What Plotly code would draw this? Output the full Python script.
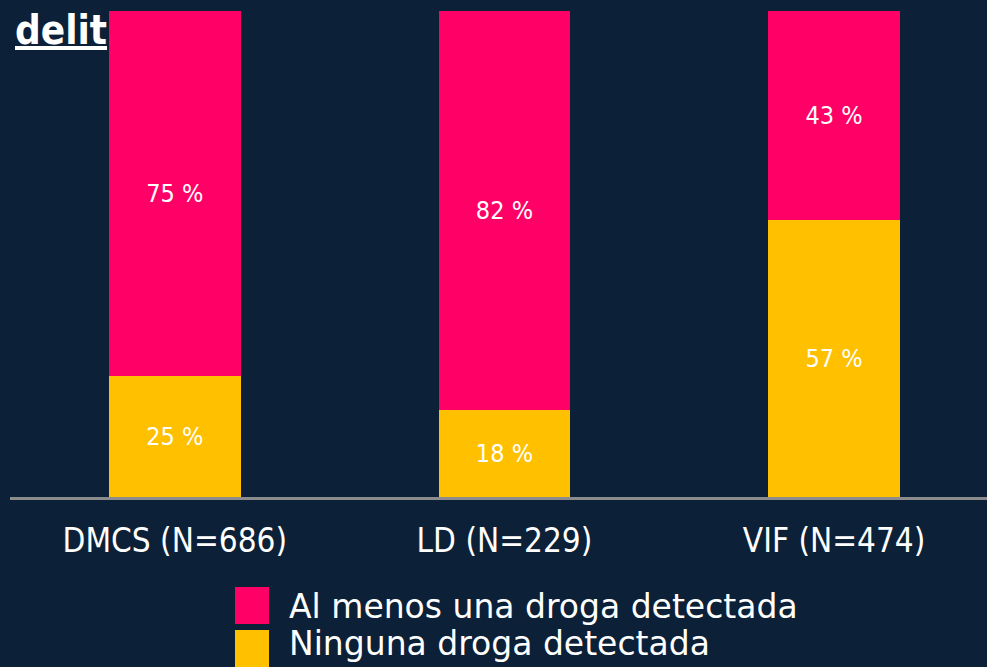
import plotly.graph_objects as go

# datos
grupos = ["DMCS (N=686)", "LD (N=229)", "VIF (N=474)"]
ninguna = [25, 18, 57]
al_menos = [75, 82, 43]
nombres = ["Al menos una droga detectada", "Ninguna droga detectada"]

bg = "#0c2137"
rosa = "#ff0066"
amarillo = "#ffc000"
fuente = "DejaVu Sans Condensed"

fig = go.Figure()

fig.add_trace(go.Bar(
    x=grupos, y=ninguna, name=nombres[1],
    marker=dict(color=amarillo, line=dict(width=0)),
    text=[f"{v} %" for v in ninguna], textposition="inside",
    insidetextanchor="middle", textangle=0,
    textfont=dict(color="white", size=25, family=fuente),
))
fig.add_trace(go.Bar(
    x=grupos, y=al_menos, name=nombres[0],
    marker=dict(color=rosa, line=dict(width=0)),
    text=[f"{v} %" for v in al_menos], textposition="inside",
    insidetextanchor="middle", textangle=0,
    textfont=dict(color="white", size=25, family=fuente),
))

# leyenda hecha a mano (cuadros grandes)
def px_x(p):
    return (p - 10) / 977

def px_y(p):
    return (497 - p) / 486

shapes = [
    dict(type="rect", xref="paper", yref="paper", x0=px_x(235), x1=px_x(269),
         y0=px_y(624), y1=px_y(587), fillcolor=rosa, line=dict(width=0)),
    dict(type="rect", xref="paper", yref="paper", x0=px_x(235), x1=px_x(269),
         y0=px_y(680), y1=px_y(630), fillcolor=amarillo, line=dict(width=0)),
]
annotations = [
    dict(text=nombres[0], xref="paper", yref="paper", x=px_x(287), y=px_y(606),
         xanchor="left", yanchor="middle", showarrow=False,
         font=dict(color="white", size=33, family="DejaVu Sans")),
    dict(text=nombres[1], xref="paper", yref="paper", x=px_x(287), y=px_y(643),
         xanchor="left", yanchor="middle", showarrow=False,
         font=dict(color="white", size=33, family="DejaVu Sans")),
    dict(text="<b><u>delit</u></b>", xref="paper", yref="paper", x=px_x(13), y=px_y(30),
         xanchor="left", yanchor="middle", showarrow=False,
         font=dict(color="white", size=40, family=fuente)),
]

fig.update_layout(
    barmode="stack",
    bargap=0.6,
    width=987, height=667,
    margin=dict(l=10, r=0, t=11, b=170),
    paper_bgcolor=bg, plot_bgcolor=bg,
    showlegend=False,
    shapes=shapes,
    annotations=annotations,
    xaxis=dict(
        range=[-0.5, 2.464], showgrid=False, zeroline=False,
        showline=True, linecolor="#8c8c8c", linewidth=3,
        ticks="outside", ticklen=12, tickcolor=bg,
        tickfont=dict(color="white", size=33, family=fuente),
    ),
    yaxis=dict(range=[0, 100], visible=False, showgrid=False, zeroline=False),
)

fig.write_html("out.html", config={"displayModeBar": False},
               post_script="document.body.style.margin='0';")
